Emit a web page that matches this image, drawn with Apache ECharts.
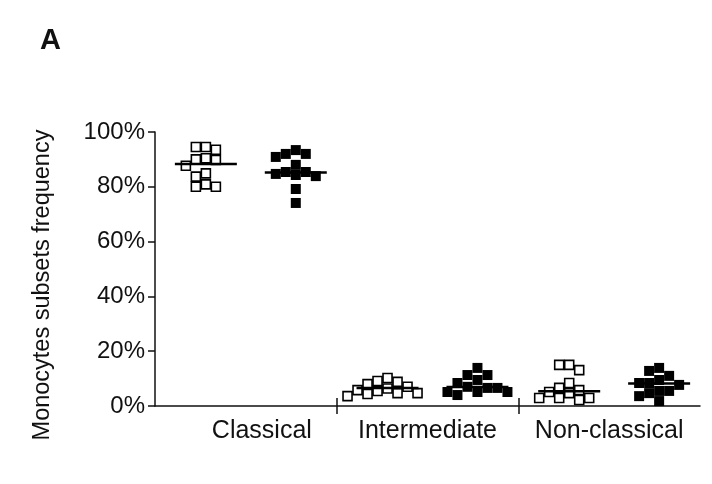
<!DOCTYPE html>
<html><head><meta charset="utf-8">
<script src="https://cdn.jsdelivr.net/npm/echarts@6/dist/echarts.min.js"></script>
<style>html,body{margin:0;padding:0;background:#fff}#c{width:712px;height:484px}</style>
</head><body><div id="c"></div><script>
// ---- data ----
const categories = ['Classical', 'Intermediate', 'Non-classical'];
const yTickValues = [0, 20, 40, 60, 80, 100];
const classicalOpen   = [94.5, 93.5, 94.5, 90.0, 87.7, 89.8, 90.4, 84.9, 83.7, 80.9, 80.0, 80.0];
const classicalFilled = [93.4, 90.9, 92.0, 92.0, 88.0, 85.4, 84.3, 83.9, 84.7, 85.4, 79.2, 74.1];
const intermOpen      = [10.2, 8.8, 8.0, 9.1, 7.0, 6.4, 5.8, 4.7, 3.6, 4.4, 4.7, 5.5];
const intermFilled    = [13.9, 11.3, 9.5, 11.3, 8.4, 5.1, 5.1, 4.0, 5.1, 6.6, 6.6, 7.0];
const nonClassOpen    = [15.0, 13.1, 15.0, 8.4, 6.6, 5.1, 5.8, 4.7, 2.9, 2.9, 2.2, 2.9];
const nonClassFilled  = [12.8, 13.9, 8.4, 9.5, 11.0, 7.7, 8.4, 5.5, 5.5, 4.7, 1.8, 3.6];
const medianLines     = [88.3, 85.2, 6.6, 6.9, 5.4, 8.2];

// ---- layout ----
const FONT = "'Liberation Sans', Arial, Helvetica, sans-serif";
const groups = [
  { cat: 0, filled: false, values: classicalOpen },
  { cat: 0, filled: true,  values: classicalFilled },
  { cat: 1, filled: false, values: intermOpen },
  { cat: 1, filled: true,  values: intermFilled },
  { cat: 2, filled: false, values: nonClassOpen },
  { cat: 2, filled: true,  values: nonClassFilled }
];
const OPEN_POS = 0.28, FILLED_POS = 0.775;

const chart = echarts.init(document.getElementById('c'), null, { renderer: 'canvas' });

const axisLineStyle = { color: '#111', width: 1.5 };
const base = {
  backgroundColor: '#ffffff',
  animation: false,
  title: { text: 'A', left: 35, top: 21, textStyle: { fontFamily: FONT, fontWeight: 'bold', fontSize: 29, color: '#111' } },
  grid: { left: 155, right: 12, top: 132, bottom: 78 },
  xAxis: [
    {
      type: 'value', min: 0, max: 3, position: 'bottom',
      splitLine: { show: false },
      axisLine: { lineStyle: axisLineStyle },
      axisTick: { show: true, length: 8, customValues: [1, 2], lineStyle: axisLineStyle },
      axisLabel: {
        customValues: categories.map((c, i) => i + 0.5),
        margin: 13,
        fontFamily: FONT, fontSize: 25, color: '#111',
        formatter: function (v) {
          const i = Math.round(v - 0.5);
          return i === 0 ? '{shift|' + categories[i] + '}' : categories[i];
        },
        rich: { shift: { fontFamily: FONT, fontSize: 25, color: '#111', padding: [0, 0, 0, 32] } }
      }
    },
    {
      type: 'value', min: 0, max: 3, position: 'bottom',
      splitLine: { show: false },
      axisLine: { show: false },
      axisLabel: { show: false },
      axisTick: { show: true, inside: true, length: 8, customValues: [1, 2], lineStyle: axisLineStyle }
    }
  ],
  yAxis: {
    type: 'value', min: 0, max: 100, interval: 20,
    splitLine: { show: false },
    axisLine: { show: true, lineStyle: axisLineStyle },
    axisTick: { show: true, length: 7, lineStyle: axisLineStyle, customValues: yTickValues },
    axisLabel: { margin: 10, fontFamily: FONT, fontSize: 24, color: '#111', formatter: '{value}%', customValues: yTickValues },
    name: 'Monocytes subsets frequency',
    nameLocation: 'middle',
    nameGap: 100,
    nameTextStyle: { fontFamily: FONT, fontSize: 23.5, color: '#111', padding: [0, 32, 0, 0] }
  },
  series: []
};
chart.setOption(base);

// beeswarm-like horizontal spreading of points that would overlap (pixel space via the axes)
function swarm(values, centerVal) {
  const d = 10;
  const cx = chart.convertToPixel({ xAxisIndex: 0 }, centerVal);
  const order = values.map((v, i) => i).sort((a, b) => values[b] - values[a]);
  const placed = [];
  const xs = new Array(values.length);
  order.forEach(i => {
    const y = chart.convertToPixel({ yAxisIndex: 0 }, values[i]);
    for (let s = 0; s < 30; s++) {
      const k = s === 0 ? 0 : (s % 2 ? -Math.ceil(s / 2) : Math.ceil(s / 2));
      const x = cx + k * d;
      if (!placed.some(p => Math.abs(p.x - x) < d - 0.5 && Math.abs(p.y - y) < d - 0.5)) {
        placed.push({ x, y }); xs[i] = x; break;
      }
    }
  });
  return values.map((v, i) => [chart.convertFromPixel({ xAxisIndex: 0 }, xs[i]), v]);
}

const series = [];
const medianData = [];
groups.forEach((g, gi) => {
  const center = g.cat + (g.filled ? FILLED_POS : OPEN_POS);
  series.push({
    type: 'scatter', xAxisIndex: 0, yAxisIndex: 0,
    symbol: 'rect', symbolSize: g.filled ? 10 : 9,
    itemStyle: g.filled ? { color: '#000', opacity: 1 } : { color: '#fff', borderColor: '#000', borderWidth: 1.6, opacity: 1 },
    data: swarm(g.values, center),
    z: 2
  });
  medianData.push([center, medianLines[gi]]);
});
series.push({
  type: 'custom', xAxisIndex: 0, yAxisIndex: 0, z: 5,
  renderItem: function (params, api) {
    const p = api.coord([api.value(0), api.value(1)]);
    return { type: 'line', shape: { x1: p[0] - 31, y1: p[1], x2: p[0] + 31, y2: p[1] }, style: { stroke: '#000', lineWidth: 2.5 } };
  },
  data: medianData
});
chart.setOption({ series: series });
</script></body></html>
